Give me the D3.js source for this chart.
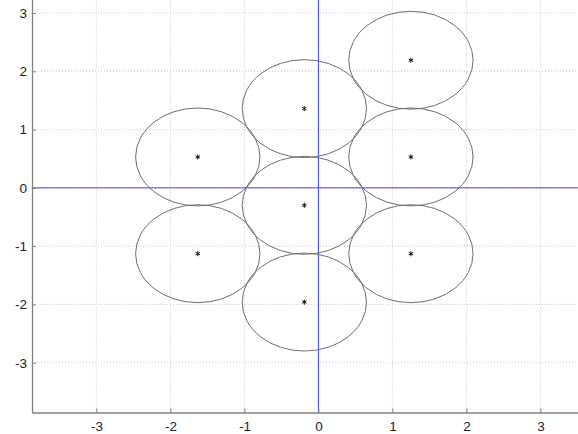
<!DOCTYPE html>
<html>
<head>
<meta charset="utf-8">
<script src="https://cdn.jsdelivr.net/npm/d3@7"></script>
<style>
  html, body { margin: 0; padding: 0; background: #fff; overflow: hidden; }
  svg { display: block; }
  text { font-family: "Liberation Sans", Arial, Helvetica, sans-serif; }
</style>
</head>
<body>
<svg id="chart" width="578" height="434"></svg>
<script>
// Circle centres (hexagonal packing) and common radius, in data units
const centerX = [-0.19, -0.19, -0.19, 1.25, 1.25, -1.63, -1.63, 1.25];
const centerY = [-0.30, 1.36, -1.96, 0.53, -1.13, 0.53, -1.13, 2.19];
const radius = 0.84;

// Tick values
const xTicks = [-3, -2, -1, 0, 1, 2, 3];
const yTicks = [-3, -2, -1, 0, 1, 2, 3];

// Axis limits
const xLimits = [-3.87, 3.87];
const yLimits = [-3.855, 3.855];

const svg = d3.select("#chart");

const x = d3.scaleLinear().domain(xLimits).range([32, 604.8]);
const y = d3.scaleLinear().domain(yLimits).range([412.5, -36.8]);

const plot = svg.append("g");

// dotted grid
plot.append("g").selectAll("line").data(xTicks).join("line")
  .attr("x1", d => x(d)).attr("x2", d => x(d))
  .attr("y1", y(yLimits[0])).attr("y2", y(yLimits[1]))
  .attr("stroke", "#c8c8c8").attr("stroke-width", 1)
  .attr("stroke-dasharray", "1,2");
plot.append("g").selectAll("line").data(yTicks).join("line")
  .attr("y1", d => y(d)).attr("y2", d => y(d))
  .attr("x1", x(xLimits[0])).attr("x2", x(xLimits[1]))
  .attr("stroke", "#c8c8c8").attr("stroke-width", 1)
  .attr("stroke-dasharray", "1,2");

// blue coordinate axes through the origin
plot.append("line")
  .attr("x1", x(0)).attr("x2", x(0))
  .attr("y1", y(yLimits[0])).attr("y2", y(yLimits[1]))
  .attr("stroke", "#4040ff").attr("stroke-width", 1);
plot.append("line")
  .attr("y1", y(0)).attr("y2", y(0))
  .attr("x1", x(xLimits[0])).attr("x2", x(xLimits[1]))
  .attr("stroke", "#4040ff").attr("stroke-width", 1);

const centres = centerX.map((cx, i) => ({ cx, cy: centerY[i] }));

// circles (drawn as ellipses because the axes are not equally scaled)
plot.append("g").selectAll("ellipse").data(centres).join("ellipse")
  .attr("cx", d => x(d.cx))
  .attr("cy", d => y(d.cy))
  .attr("rx", x(radius) - x(0))
  .attr("ry", y(0) - y(radius))
  .attr("fill", "none")
  .attr("stroke", "#6e6e6e")
  .attr("stroke-width", 1);

// centre markers
const star = d3.symbol().type(d3.symbolAsterisk).size(18);
plot.append("g").selectAll("path").data(centres).join("path")
  .attr("transform", d => `translate(${x(d.cx)},${y(d.cy)})`)
  .attr("d", star)
  .attr("fill", "none")
  .attr("stroke", "#111")
  .attr("stroke-width", 1);

// axes
const xAxis = d3.axisBottom(x).tickValues(xTicks).tickSizeInner(-4).tickSizeOuter(0)
  .tickFormat(d => d3.format("d")(d).replace("−", "-"));
const yAxis = d3.axisLeft(y).tickValues(yTicks).tickSizeInner(-4).tickSizeOuter(0)
  .tickFormat(d => d3.format("d")(d).replace("−", "-"));

const gx = svg.append("g").attr("transform", `translate(0,${y(yLimits[0])})`).call(xAxis);
const gy = svg.append("g").attr("transform", `translate(${x(xLimits[0])},0)`).call(yAxis);

[gx, gy].forEach(g => {
  g.select(".domain").attr("stroke", "#808080").attr("stroke-width", 1.3);
  g.selectAll(".tick line").attr("stroke", "#808080");
  g.selectAll(".tick text").attr("fill", "#222").attr("font-size", 13.5);
});
gx.selectAll(".tick text").attr("dy", "0.71em").attr("y", 9);
gy.selectAll(".tick text").attr("x", -5);
</script>
</body>
</html>
